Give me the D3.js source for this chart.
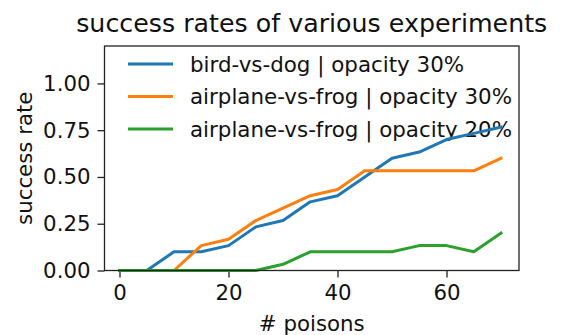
<!DOCTYPE html>
<html>
<head>
<meta charset="utf-8">
<script src="https://cdn.jsdelivr.net/npm/d3@7"></script>
<style>
  html, body { margin: 0; padding: 0; background: #fff; }
  svg { display: block; }
  text { font-family: "DejaVu Sans", sans-serif; fill: #111; }
</style>
</head>
<body>
<script>
// Number of poisons tested
const poisons = [0, 5, 10, 15, 20, 25, 30, 35, 40, 45, 50, 55, 60, 65, 70];

// Success rate per experiment
const birdDog30 =     [0, 0, 0.1, 0.1, 0.133, 0.233, 0.267, 0.367, 0.4, 0.5, 0.6, 0.633, 0.7, 0.733, 0.767];
const airplaneFrog30 = [0, 0, 0, 0.133, 0.167, 0.267, 0.333, 0.4, 0.433, 0.533, 0.533, 0.533, 0.533, 0.533, 0.6];
const airplaneFrog20 = [0, 0, 0, 0, 0, 0, 0.033, 0.1, 0.1, 0.1, 0.1, 0.133, 0.133, 0.1, 0.2];

const seriesNames = [
  "bird-vs-dog | opacity 30%",
  "airplane-vs-frog | opacity 30%",
  "airplane-vs-frog | opacity 20%"
];
const seriesColors = ["#1f77b4", "#ff7f0e", "#2ca02c"];
const seriesValues = [birdDog30, airplaneFrog30, airplaneFrog20];

const xTicks = [0, 20, 40, 60];
const yTicks = [0, 0.25, 0.5, 0.75, 1.0];

const W = 561, H = 335;
const plot = { left: 104.5, right: 519, top: 46, bottom: 270.5 };

const svg = d3.select("body").append("svg")
  .attr("width", W).attr("height", H);

const x = d3.scaleLinear().domain([-2.75, 73.3]).range([plot.left, plot.right]);
const y = d3.scaleLinear().domain([0, 1.2]).range([plot.bottom, plot.top]);

// Axes
const xAxis = svg.append("g")
  .attr("transform", `translate(0,${plot.bottom})`)
  .call(d3.axisBottom(x).tickValues(xTicks).tickSize(7).tickPadding(7).tickFormat(d3.format("d")));
const yAxis = svg.append("g")
  .attr("transform", `translate(${plot.left},0)`)
  .call(d3.axisLeft(y).tickValues(yTicks).tickSize(7).tickPadding(7).tickFormat(d3.format(".2f")));

[xAxis, yAxis].forEach(g => {
  g.select(".domain").remove();
  g.selectAll(".tick line").attr("stroke", "#222").attr("stroke-width", 1.3);
  g.selectAll(".tick text").attr("font-size", 21.3).attr("fill", "#111")
    .style("font-family", "'DejaVu Sans', sans-serif");
});

// Series lines
const line = d3.line()
  .x((d, i) => x(poisons[i]))
  .y(d => y(d));

// Legend
const legend = svg.append("g");
seriesNames.forEach((name, i) => {
  const ly = 64 + i * 32.5;
  legend.append("line")
    .attr("x1", 128).attr("x2", 173)
    .attr("y1", ly).attr("y2", ly)
    .attr("stroke", seriesColors[i]).attr("stroke-width", 3);
  legend.append("text")
    .attr("x", 190).attr("y", ly)
    .attr("dy", "0.36em")
    .attr("font-size", 21.4)
    .text(name);
});

seriesValues.forEach((vals, i) => {
  svg.append("path")
    .datum(vals)
    .attr("d", line)
    .attr("fill", "none")
    .attr("stroke", seriesColors[i])
    .attr("stroke-width", 3)
    .attr("stroke-linejoin", "round")
    .attr("stroke-linecap", "square");
});

// Frame
svg.append("rect")
  .attr("x", plot.left).attr("y", plot.top)
  .attr("width", plot.right - plot.left).attr("height", plot.bottom - plot.top)
  .attr("fill", "none").attr("stroke", "#222").attr("stroke-width", 1.3);

// Title and axis labels
svg.append("text")
  .attr("x", (plot.left + plot.right) / 2).attr("y", 32)
  .attr("text-anchor", "middle").attr("font-size", 25.3)
  .text("success rates of various experiments");

svg.append("text")
  .attr("x", (plot.left + plot.right) / 2).attr("y", 331)
  .attr("text-anchor", "middle").attr("font-size", 21.3)
  .text("# poisons");

svg.append("text")
  .attr("transform", `translate(32,${(plot.top + plot.bottom) / 2}) rotate(-90)`)
  .attr("text-anchor", "middle").attr("font-size", 21.3)
  .text("success rate");
</script>
</body>
</html>
